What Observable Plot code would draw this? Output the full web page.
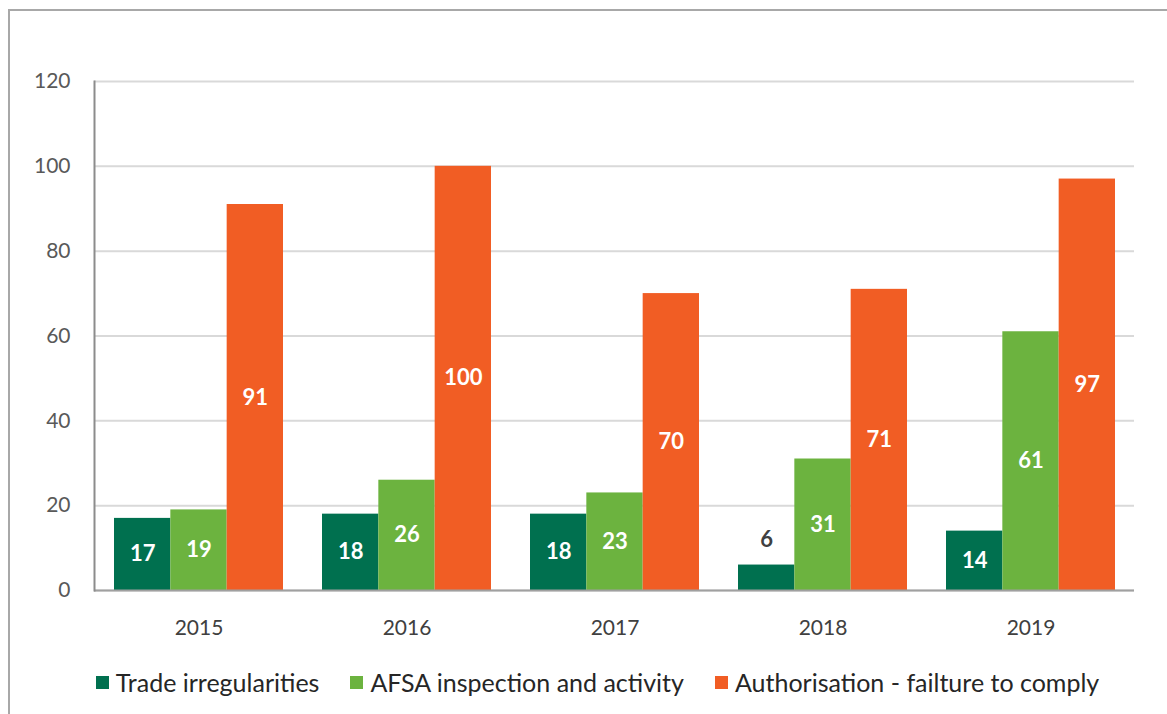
<!DOCTYPE html>
<html>
<head>
<meta charset="utf-8">
<script src="https://cdn.jsdelivr.net/npm/d3@7"></script>
<script src="https://cdn.jsdelivr.net/npm/@observablehq/plot@0.6"></script>
<style>
  html, body { margin: 0; padding: 0; background: #fff; }
  body { width: 1167px; height: 714px; position: relative; overflow: hidden;
         font-family: Lato, "Open Sans", sans-serif; }
  #frame { position: absolute; left: 8px; top: 9px; width: 1300px; height: 800px;
           border-left: 2px solid #a8a8a8; border-top: 2px solid #a8a8a8; }
  #chart { position: absolute; left: 0; top: 0; }
  #legend { position: absolute; left: 0; width: 1195px; top: 667px; display: flex;
            justify-content: center; gap: 31px; font-size: 25px; color: #262626; }
  .item { display: flex; align-items: center; }
  .sw { width: 13px; height: 13px; margin-right: 7px; }
</style>
</head>
<body>
<div id="frame"></div>
<div id="chart"></div>
<div id="legend"></div>
<script>
const years = ["2015", "2016", "2017", "2018", "2019"];
const seriesNames = ["Trade irregularities", "AFSA inspection and activity", "Authorisation - failture to comply"];
const trade = [17, 18, 18, 6, 14];
const afsa = [19, 26, 23, 31, 61];
const auth = [91, 100, 70, 71, 97];
const colors = ["#00704F", "#6CB33F", "#F15D24"];
const yTicks = [0, 20, 40, 60, 80, 100, 120];

const seriesValues = [trade, afsa, auth];
const data = years.flatMap((y, i) => seriesNames.map((s, k) => ({year: y, series: s, k, value: seriesValues[k][i]})));

const W = 1167, H = 650, ML = 94, MR = 33, MT = 81, MB = 60;
const PI = 0.1875, PO = 0.09375;
// band width of a year group, derived from the same band settings Plot uses
const bw = d3.scaleBand().domain(years).range([ML, W - MR]).paddingInner(PI).paddingOuter(PO).bandwidth();
const sub = bw / seriesNames.length;

const font = "Lato, 'Open Sans', sans-serif";

const marks = [
  Plot.gridY(yTicks, {stroke: "#d9d9d9", strokeOpacity: 1, strokeWidth: 2})
];
seriesNames.forEach((s, k) => {
  const rows = data.filter(d => d.k === k);
  marks.push(Plot.barY(rows, {
    x: "year", y: "value", fill: colors[k],
    insetLeft: k * sub, insetRight: (seriesNames.length - 1 - k) * sub
  }));
  const dx = (k - (seriesNames.length - 1) / 2) * sub;
  marks.push(Plot.text(rows.filter(d => d.value >= 10), {
    x: "year", y: d => d.value / 2, text: "value", dx,
    fill: "white", fontWeight: "bold", fontSize: 22
  }));
  marks.push(Plot.text(rows.filter(d => d.value < 10), {
    x: "year", y: "value", text: "value", dx, dy: -25,
    fill: "#404040", fontWeight: "bold", fontSize: 22
  }));
});
marks.push(
  Plot.ruleY([0], {stroke: "#a0a0a0", strokeWidth: 2}),
  Plot.frame({anchor: "left", stroke: "#8c8c8c", strokeWidth: 2}),
  Plot.axisY(yTicks, {tickSize: 0, tickPadding: 24, fontSize: 21, fill: "#595959", label: null}),
  Plot.axisX({tickSize: 0, tickPadding: 30, fontSize: 21, fill: "#404040", label: null})
);

const chart = Plot.plot({
  width: W, height: H,
  marginLeft: ML, marginRight: MR, marginTop: MT, marginBottom: MB,
  style: {fontFamily: font, background: "transparent"},
  x: {domain: years, paddingInner: PI, paddingOuter: PO, label: null},
  y: {domain: [0, 120], label: null},
  marks
});
document.getElementById("chart").appendChild(chart);

const legend = document.getElementById("legend");
seriesNames.forEach((s, k) => {
  const it = document.createElement("div");
  it.className = "item";
  const sw = document.createElement("span");
  sw.className = "sw";
  sw.style.background = colors[k];
  const t = document.createElement("span");
  t.textContent = s;
  it.appendChild(sw);
  it.appendChild(t);
  legend.appendChild(it);
});
</script>
</body>
</html>
